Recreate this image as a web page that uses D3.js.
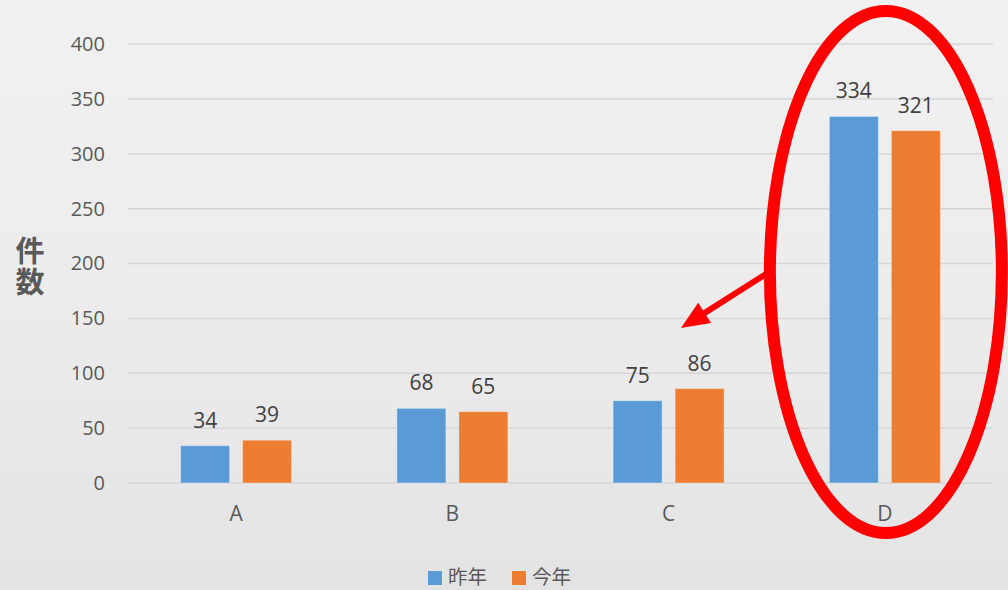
<!DOCTYPE html>
<html lang="ja">
<head>
<meta charset="utf-8">
<script src="https://cdn.jsdelivr.net/npm/d3@7"></script>
<style>
  html, body { margin: 0; padding: 0; }
  body { width: 1008px; height: 590px; overflow: hidden; }
  svg { display: block; }
</style>
</head>
<body>
<svg id="chart" width="1008" height="590"></svg>
<script>
// Categories and series
const categories = ["A", "B", "C", "D"];
const seriesNames = ["昨年", "今年"];
const lastYear = [34, 68, 75, 334];
const thisYear = [39, 65, 86, 321];
const yTicks = [0, 50, 100, 150, 200, 250, 300, 350, 400];
const yTitle = "件数";
const colors = ["#5B9BD5", "#ED7D31"];

const svg = d3.select("#chart");
const W = 1008, H = 590;
const font = "'Open Sans', 'Noto Sans CJK JP', sans-serif";

// Background with a soft vertical shade
const defs = svg.append("defs");
const bg = defs.append("linearGradient").attr("id", "bg")
  .attr("x1", 0).attr("y1", 0).attr("x2", 0).attr("y2", 1);
bg.append("stop").attr("offset", "0%").attr("stop-color", "#f1f1f1");
bg.append("stop").attr("offset", "60%").attr("stop-color", "#ebebeb");
bg.append("stop").attr("offset", "100%").attr("stop-color", "#e3e3e3");
svg.append("rect").attr("width", W).attr("height", H).attr("fill", "url(#bg)");

// Scales
const x = d3.scaleBand().domain(categories).range([128, 993]).padding(0);
const xs = d3.scaleBand().domain(seriesNames)
  .range([-55.5, 55.5]).paddingInner(13 / 62).paddingOuter(0);
const y = d3.scaleLinear().domain([0, 400]).range([483, 44]);

// Gridlines
svg.append("g").selectAll("line").data(yTicks).join("line")
  .attr("x1", 128).attr("x2", 993)
  .attr("y1", d => y(d)).attr("y2", d => y(d))
  .attr("stroke", "#d6d6d6").attr("stroke-width", 1.5);

// Y axis labels
const yAxis = d3.axisLeft(y).tickValues(yTicks).tickSize(0).tickPadding(0);
const gy = svg.append("g").attr("transform", "translate(105,0)").call(yAxis);
gy.select(".domain").remove();
gy.selectAll("text")
  .attr("font-family", font).attr("font-size", 20)
  .attr("fill", "#595959");

// Y axis title, set in vertical writing mode
svg.append("text")
  .attr("x", 30).attr("y", 267)
  .attr("text-anchor", "middle")
  .style("writing-mode", "vertical-rl")
  .style("letter-spacing", "2px")
  .attr("font-family", "'Noto Sans CJK JP', sans-serif")
  .attr("font-weight", "bold").attr("font-size", 29)
  .attr("fill", "#595959").text(yTitle);

// X axis labels
const xAxis = d3.axisBottom(x).tickSize(0).tickPadding(0);
const gx = svg.append("g").attr("transform", "translate(0,506)").call(xAxis);
gx.select(".domain").remove();
gx.selectAll("text")
  .attr("font-family", font).attr("font-size", 21)
  .attr("fill", "#595959").attr("dy", "0.7em");

// Bars
const rows = categories.map((c, i) => ({
  cat: c,
  vals: [
    { s: seriesNames[0], v: lastYear[i], c: colors[0] },
    { s: seriesNames[1], v: thisYear[i], c: colors[1] }
  ]
}));

const groups = svg.append("g").selectAll("g").data(rows).join("g")
  .attr("transform", d => `translate(${x(d.cat) + x.bandwidth() / 2},0)`);

groups.selectAll("rect").data(d => d.vals).join("rect")
  .attr("x", d => xs(d.s)).attr("width", xs.bandwidth())
  .attr("y", d => y(d.v)).attr("height", d => y(0) - y(d.v))
  .attr("fill", d => d.c)
  .attr("stroke", "rgba(255,255,255,0.35)").attr("stroke-width", 1);

// Data labels
groups.selectAll("text").data(d => d.vals).join("text")
  .attr("x", d => xs(d.s) + xs.bandwidth() / 2)
  .attr("y", d => y(d.v) - 18)
  .attr("text-anchor", "middle")
  .attr("font-family", font).attr("font-size", 21)
  .attr("fill", "#404040").text(d => d.v);

// Legend
const legend = svg.append("g");
const legendItems = [
  { name: seriesNames[0], color: colors[0], x: 428 },
  { name: seriesNames[1], color: colors[1], x: 512 }
];
legendItems.forEach(it => {
  legend.append("rect").attr("x", it.x).attr("y", 571)
    .attr("width", 14).attr("height", 14).attr("fill", it.color);
  legend.append("text").attr("x", it.x + 20).attr("y", 575)
    .attr("dominant-baseline", "central")
    .attr("font-family", "'Noto Sans CJK JP', sans-serif")
    .attr("font-size", 19.5).attr("fill", "#595959").text(it.name);
});

// Red ellipse highlighting category D and the arrow pointing left
const cx = x("D") + x.bandwidth() / 2 + 1;
svg.append("ellipse")
  .attr("cx", cx).attr("cy", 272).attr("rx", 116).attr("ry", 261)
  .attr("fill", "none").attr("stroke", "#ff0000").attr("stroke-width", 12);

const tip = [681, 328];
const start = [769, 272];
const ang = Math.atan2(start[1] - tip[1], start[0] - tip[0]);
const headLen = 28, headHalf = 12;
const bx = tip[0] + Math.cos(ang) * headLen, by = tip[1] + Math.sin(ang) * headLen;
svg.append("line")
  .attr("x1", start[0]).attr("y1", start[1])
  .attr("x2", bx - Math.cos(ang) * 4).attr("y2", by - Math.sin(ang) * 4)
  .attr("stroke", "#ff0000").attr("stroke-width", 6);
svg.append("path")
  .attr("d", d3.line()([
    tip,
    [bx + Math.sin(ang) * headHalf, by - Math.cos(ang) * headHalf],
    [bx - Math.sin(ang) * headHalf, by + Math.cos(ang) * headHalf]
  ]) + "Z")
  .attr("fill", "#ff0000");
</script>
</body>
</html>
